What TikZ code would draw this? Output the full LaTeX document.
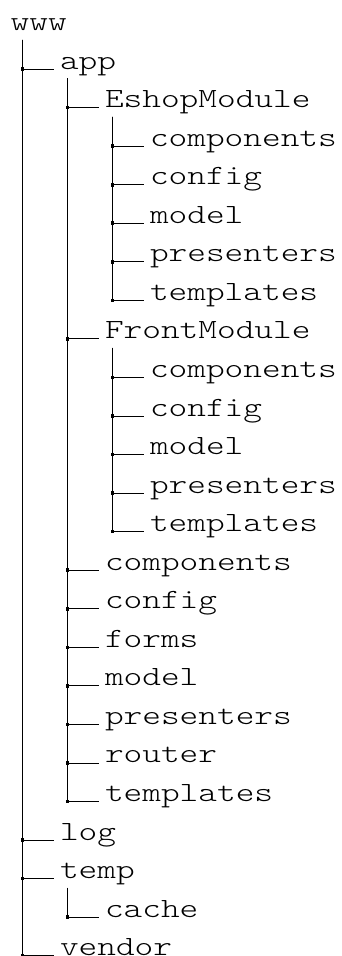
\documentclass[tikz,border=0pt]{standalone}
\usepackage{fontspec}
\newfontfamily\dirfont[FakeStretch=1.28]{Latin Modern Mono Light}
\begin{document}
\begin{tikzpicture}[
  x=1pt, y=-1pt,
  dir/.style={anchor=base west, inner sep=0, font=\dirfont\fontsize{27.8}{27.8}\selectfont},
  dot/.style={rectangle, fill=black, inner sep=0, minimum size=3.6pt},
  branch/.style={line width=0.9pt}
  ]
  \useasboundingbox (0,0) rectangle (342,956);

  % Define nodes
  \node[dir] (www) at (10.5,30.5) {www};
  \node[dir] (app) at (59.8,69.05) {app};
  \node[dir] (eshop) at (104.8,107.6) {EshopModule};
  \node[dir] (eshopcomp) at (149.8,146.15) {components};
  \node[dir] (eshopconf) at (149.8,184.7) {config};
  \node[dir] (eshopmodel) at (149.8,223.25) {model};
  \node[dir] (eshoppres) at (149.8,261.8) {presenters};
  \node[dir] (eshoptpl) at (149.8,300.35) {templates};
  \node[dir] (front) at (104.8,338.9) {FrontModule};
  \node[dir] (frontcomp) at (149.8,377.45) {components};
  \node[dir] (frontconf) at (149.8,416.0) {config};
  \node[dir] (frontmodel) at (149.8,454.55) {model};
  \node[dir] (frontpres) at (149.8,493.1) {presenters};
  \node[dir] (fronttpl) at (149.8,531.65) {templates};
  \node[dir] (appcomp) at (104.8,570.2) {components};
  \node[dir] (appconf) at (104.8,608.75) {config};
  \node[dir] (forms) at (104.8,647.3) {forms};
  \node[dir] (appmodel) at (104.8,685.85) {model};
  \node[dir] (apppres) at (104.8,724.4) {presenters};
  \node[dir] (router) at (104.8,762.95) {router};
  \node[dir] (apptpl) at (104.8,801.5) {templates};
  \node[dir] (log) at (59.8,840.05) {log};
  \node[dir] (temp) at (59.8,878.6) {temp};
  \node[dir] (cache) at (104.8,917.15) {cache};
  \node[dir] (vendor) at (59.8,955.7) {vendor};

  % Draw branches from the root
  \foreach \p/\c in {www/app, www/log, www/temp, www/vendor}
    \draw[branch] ([xshift=11.8pt,yshift=-9pt]\p.base west) |- node[dot] {} ([xshift=-5.5pt]\c.base west);

  % Draw branches inside the folders
  \foreach \p/\c in {app/eshop, app/front, app/appcomp, app/appconf, app/forms, app/appmodel,
      app/apppres, app/router, app/apptpl,
      eshop/eshopcomp, eshop/eshopconf, eshop/eshopmodel, eshop/eshoppres, eshop/eshoptpl,
      front/frontcomp, front/frontconf, front/frontmodel, front/frontpres, front/fronttpl,
      temp/cache}
    \draw[branch] ([xshift=7.5pt,yshift=-9pt]\p.base west) |- node[dot] {} ([xshift=-5.5pt]\c.base west);
\end{tikzpicture}
\end{document}
